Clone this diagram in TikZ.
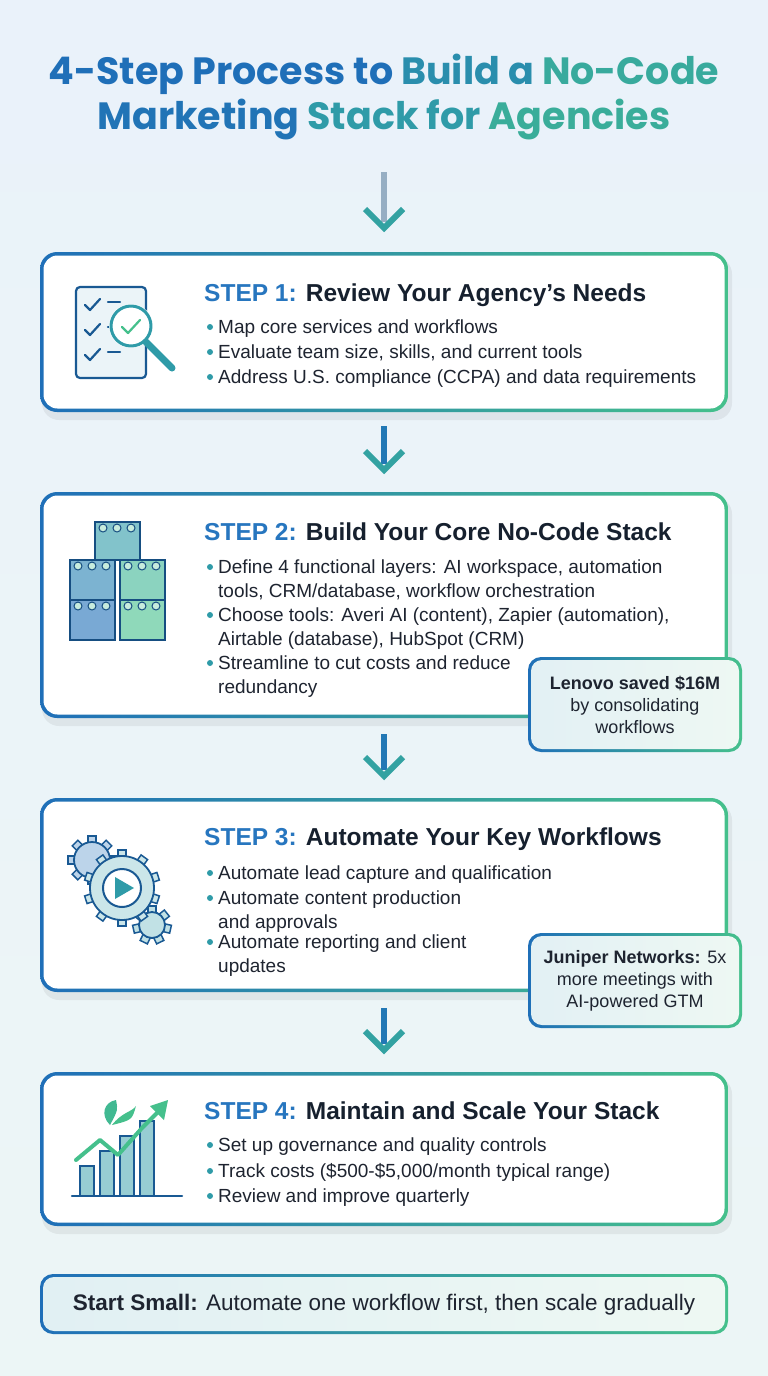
\documentclass[tikz,border=0pt]{standalone}
\usepackage{fontspec}
\setmainfont{Liberation Sans}
\newfontfamily\titlefont{Poppins}
\usetikzlibrary{calc}
\definecolor{bl}{HTML}{1F6FB8}
\definecolor{gr}{HTML}{45C08C}
\definecolor{tl}{HTML}{2F9BA8}
\definecolor{hb}{HTML}{2776BF}
\definecolor{dk}{HTML}{16202E}
\definecolor{tx}{HTML}{1E2430}
\definecolor{bga}{HTML}{EAF2FA}
\definecolor{bgb}{HTML}{EEF8F3}
\definecolor{pale}{HTML}{DDEFF0}
\tikzset{
  head/.style={anchor=base west,inner sep=0pt,font=\fontsize{24.5}{28}\selectfont\bfseries,text=dk},
  bul/.style={anchor=base west,inner sep=0pt,font=\fontsize{19}{24}\selectfont,text=tx,align=left},
  dot/.style={circle,fill=tl,inner sep=0pt,minimum size=6pt},
  callt/.style={align=center,font=\fontsize{18}{22}\selectfont,text=tx,inner sep=0pt},
  flow/.style={line width=6pt,draw=tl},
  ico/.style={line width=2.2pt,draw=bl!80!black,line cap=round,line join=round},
}
\newcommand\gbox[4]{%
  \fill[black,opacity=0.06,rounded corners=17pt] (#1+2,#2+5) rectangle (#3+4,#4+8);
  \shade[left color=bl,right color=gr,rounded corners=17pt] (#1,#2) rectangle (#3,#4);
  \fill[white,rounded corners=14pt] (#1+3.5,#2+3.5) rectangle (#3-3.5,#4-3.5);}
\newcommand\cbox[4]{%
  \shade[left color=bl,right color=gr,rounded corners=13pt] (#1,#2) rectangle (#3,#4);
  \shade[left color=pale!60!bga,right color=bgb,rounded corners=11pt] (#1+3,#2+3) rectangle (#3-3,#4-3);}
\newcommand\chev[1]{\draw[line width=6pt,draw=tl!80!gr,line join=miter] ($(#1)+(-19,-19)$) -- (#1) -- ($(#1)+(19,-19)$);}
\newcommand\gear[5]{% cx cy r n color
  \foreach \k in {1,...,#4}{\fill[#5,draw=bl!80!black,line width=1.5pt,rotate around={360/#4*\k:(#1,#2)}] (#1-4,#2-#3-6) rectangle (#1+4,#2-#3+4);}
  \fill[#5,draw=bl!80!black,line width=1.8pt] (#1,#2) circle (#3);}
\begin{document}
\begin{tikzpicture}[x=1pt,y=-1pt]
\useasboundingbox (0,0) rectangle (768,1376);
\shade[top color=bga,bottom color=bgb!60!bga] (0,0) rectangle (768,1376);
% title
\node[font=\titlefont\fontsize{38}{45}\selectfont\bfseries,align=center,inner sep=0pt] (title) at (384,97)
 {\textcolor{bl}{4-Step Process to }\textcolor{tl!70!bl}{Build a }\textcolor{tl!60!gr}{No-Code}\\
  \textcolor{bl!90!tl}{Marketing }\textcolor{tl}{Stack for }\textcolor{tl!50!gr}{Agencies}};
% boxes
\gbox{40}{252}{728}{412}
\gbox{40}{492}{728}{718}
\gbox{40}{798}{728}{992}
\gbox{40}{1072}{728}{1226}
\coordinate (b1t) at (384,252);\coordinate (b1b) at (384,412);
\coordinate (b2t) at (384,492);\coordinate (b2b) at (384,718);
\coordinate (b3t) at (384,798);\coordinate (b3b) at (384,992);
\coordinate (b4t) at (384,1072);
% arrows
\coordinate (h1) at (384,228);\coordinate (h2) at (384,470);\coordinate (h3) at (384,776);\coordinate (h4) at (384,1050);
\draw[line width=6pt,draw=bl!50!gray!60] (title.south |- 0,172) -- ($(h1)+(0,-6)$);
\chev{h1}
\draw[flow,draw=bl!80!tl] ($(b1b)+(0,14)$) -- ($(h2)+(0,-6)$); \chev{h2}
\draw[flow,draw=bl!80!tl] ($(b2b)+(0,16)$) -- ($(h3)+(0,-6)$); \chev{h3}
\draw[flow,draw=bl!80!tl] ($(b3b)+(0,16)$) -- ($(h4)+(0,-6)$); \chev{h4}
% STEP 1
\node[head] (s1) at (204,301) {\textcolor{hb}{STEP 1:} Review Your Agency's Needs};
\foreach \y/\t in {333/Map core services and workflows,358/{Evaluate team size, skills, and current tools},383/Address U.S. compliance (CCPA) and data requirements}{
 \node[dot] at (210,\y-6) {}; \node[bul] at (218,\y) {\t};}
% icon 1
\fill[bga!70!bgb,rounded corners=4pt] (76,287) rectangle (146,378);
\draw[ico,rounded corners=4pt] (76,287) rectangle (146,378);
\foreach \y in {305,330,355}{\draw[ico] (85,\y) -- (90,\y+5) -- (100,\y-6); \draw[ico] (108,\y-3) -- (120,\y-3);}
\fill[white] (131,326) circle (22);
\draw[ico,draw=tl,line width=3pt] (131,326) circle (20);
\draw[ico,draw=gr] (122,327) -- (128,333) -- (140,320);
\draw[line width=7pt,draw=tl,line cap=round] (146,342) -- (172,368);
% STEP 2
\node[head] (s2) at (204,540) {\textcolor{hb}{STEP 2:} Build Your Core No-Code Stack};
\node[dot] at (210,567) {}; \node[bul] at (218,597) {Define 4 functional layers: AI workspace, automation\\tools, CRM/database, workflow orchestration};
\node[dot] at (210,615) {}; \node[bul] at (218,645) {Choose tools: Averi AI (content), Zapier (automation),\\Airtable (database), HubSpot (CRM)};
\node[dot] at (210,663) {}; \node[bul] at (218,693) {Streamline to cut costs and reduce\\redundancy};
% icon 2: blocks
\foreach \x/\y/\c in {70/600/bl,120/600/gr,70/560/bl!60!tl,120/560/gr!70!tl}{
 \fill[\c!60!white,draw=bl!70!black,line width=1.8pt] (\x,\y) rectangle (\x+45,\y+40);}
\foreach \x/\y in {70/600,120/600,70/560,120/560}{\foreach \k in {0,1,2}{\fill[white!70!gr,draw=bl!70!black,line width=1pt] (\x+8+\k*14,\y+6) circle (4);}}
\fill[tl!60!white,draw=bl!70!black,line width=1.8pt] (95,522) rectangle (140,560);
\foreach \k in {0,1,2}{\fill[white!70!gr,draw=bl!70!black,line width=1pt] (103+\k*14,528) circle (4);}
% callout 1
\cbox{528}{657}{742}{752}
\node[callt] (c1) at (635,705) {\textbf{Lenovo saved \$16M}\\by consolidating\\workflows};
% STEP 3
\node[head] (s3) at (204,845) {\textcolor{hb}{STEP 3:} Automate Your Key Workflows};
\node[dot] at (210,873) {}; \node[bul] at (218,879) {Automate lead capture and qualification};
\node[dot] at (210,898) {}; \node[bul] at (218,928) {Automate content production\\and approvals};
\node[dot] at (210,942) {}; \node[bul] at (218,972) {Automate reporting and client\\updates};
% icon 3: gears
\gear{92}{860}{18}{8}{bl!30!white}
\gear{152}{925}{13}{7}{tl!30!white}
\gear{122}{888}{32}{10}{tl!25!white}
\fill[white,draw=bl!80!black,line width=2pt] (122,888) circle (19);
\fill[tl] (115,877) -- (134,888) -- (115,899) -- cycle;
% callout 2
\cbox{528}{933}{742}{1028}
\node[callt] (c2) at (635,981) {\textbf{Juniper Networks:} 5x\\more meetings with\\AI-powered GTM};
% STEP 4
\node[head] (s4) at (204,1119) {\textcolor{hb}{STEP 4:} Maintain and Scale Your Stack};
\foreach \y/\t in {1151/Set up governance and quality controls,1177/{Track costs (\$500-\$5,000/month typical range)},1202/Review and improve quarterly}{
 \node[dot] at (210,\y-6) {}; \node[bul] at (218,\y) {\t};}
% icon 4
\foreach \x/\h in {80/30,100/45,120/60,140/75}{\fill[tl!50!white,draw=bl!80!black,line width=1.8pt] (\x,1196-\h) rectangle (\x+14,1196);}
\draw[ico,line width=2.5pt] (72,1196) -- (182,1196);
\draw[line width=4pt,draw=gr,line cap=round,line join=round] (76,1160) -- (100,1140) -- (118,1155) -- (142,1128) -- (160,1110);
\fill[gr] (168,1100) -- (164,1120) -- (150,1106) -- cycle;
\fill[gr!80!tl] (110,1125) .. controls (100,1115) and (104,1102) .. (116,1100) .. controls (118,1110) .. (110,1125);
\fill[gr] (112,1125) .. controls (122,1112) and (132,1112) .. (136,1106) .. controls (132,1120) .. (112,1125);
% bottom box
\shade[left color=bl,right color=gr,rounded corners=13pt] (40,1274) rectangle (728,1334);
\shade[left color=pale!70!bga,right color=bgb,rounded corners=11pt] (43,1277) rectangle (725,1331);
\node[font=\fontsize{22.5}{26}\selectfont,text=tx,inner sep=0pt] (tip) at (384,1305) {\textbf{Start Small:} Automate one workflow first, then scale gradually};
\end{tikzpicture}
\end{document}
